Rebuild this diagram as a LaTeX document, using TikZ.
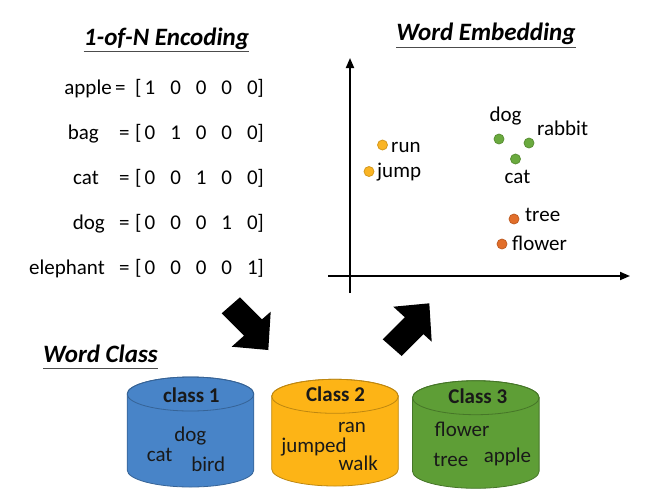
\documentclass[tikz,border=0pt]{standalone}
\usepackage{fontspec}
\setmainfont{Carlito}
\usepackage{tikz}
\usetikzlibrary{arrows.meta, positioning}

\definecolor{binblue}{RGB}{72,132,200}
\definecolor{binorange}{RGB}{253,180,22}
\definecolor{bingreen}{RGB}{94,158,54}
\definecolor{dotyellow}{RGB}{250,180,35}
\definecolor{dotgreen}{RGB}{106,170,62}
\definecolor{dotorange}{RGB}{226,110,42}

\tikzset{
  title/.style={font=\fontsize{25}{30}\selectfont\bfseries\itshape, inner sep=0pt},
  word/.style={font=\fontsize{21}{25}\selectfont, inner sep=0pt},
  binword/.style={word, text=black!90},
  bintitle/.style={binword, font=\fontsize{21}{25}\selectfont\bfseries},
  uline/.style={line width=1.8pt, black!70},
  axis/.style={line width=1.8pt, -{Triangle[length=10pt,width=8pt]}},
  dot/.style={circle, inner sep=0pt, minimum size=10pt, line width=0.8pt},
  binline/.style={line width=0.8pt},
  blockarrow/.style={fill=black}
}

\begin{document}
\begin{tikzpicture}[x=1pt, y=-1pt]
\useasboundingbox (0,0) rectangle (650,491);

% 1-of-N encoding
\node[title, anchor=base] (enc) at (166.5,45) {1-of-N Encoding};
\draw[uline] ([yshift=-6.5pt]enc.base west) -- ([yshift=-6.5pt]enc.base east);

\foreach \w/\wx/\eqx/\bits [count=\r] in {apple/112/115/{1,0,0,0,0}, bag/99/119/{0,1,0,0,0},
    cat/99/119/{0,0,1,0,0}, dog/105/119/{0,0,0,1,0}, elephant/105/119/{0,0,0,0,1}} {
  \node[word, anchor=base east] (w\r) at (\wx,49+45*\r) {\w};
  \node[word, anchor=base west] (eq\r) at (\eqx,49+45*\r) {=};
  \node[word, anchor=base west] (open\r) at (135,49+45*\r) {[};
  \foreach \b [count=\c] in \bits
    \node[word, anchor=base] (bit\r\c) at (124.4+25.6*\c,49+45*\r) {\b};
  \node[word, anchor=base east] (close\r) at (264,49+45*\r) {]};
}

% Word embedding
\node[title, anchor=base] (emb) at (486,40) {Word Embedding};
\draw[uline] ([yshift=-7.5pt]emb.base west) -- ([yshift=-7.5pt]emb.base east);

\coordinate (ybot) at (350,293);
\coordinate (ytop) at (350,58);
\coordinate (xleft) at (328,276);
\coordinate (xright) at (630,276);
\draw[axis] (ybot) -- (ytop);
\draw[axis] (xleft) -- (xright);

\node[dot, fill=dotyellow, draw=dotyellow!85!black] (run-dot) at (382.5,145) {};
\node[dot, fill=dotyellow, draw=dotyellow!85!black] (jump-dot) at (369,171.5) {};
\node[dot, fill=dotgreen, draw=dotgreen!85!black] (dog-dot) at (499,139) {};
\node[dot, fill=dotgreen, draw=dotgreen!85!black] (rabbit-dot) at (529,143) {};
\node[dot, fill=dotgreen, draw=dotgreen!85!black] (cat-dot) at (515.5,159) {};
\node[dot, fill=dotorange, draw=dotorange!85!black] (tree-dot) at (514,219) {};
\node[dot, fill=dotorange, draw=dotorange!85!black] (flower-dot) at (502,244) {};

\node[word, anchor=base west] (run) at (391,152.5) {run};
\node[word, anchor=base west] (jump) at (377,177) {jump};
\node[word, anchor=base] (dog) at (505.5,121.5) {dog};
\node[word, anchor=base west] (rabbit) at (537,135) {rabbit};
\node[word, anchor=base] (cat) at (517.5,183.5) {cat};
\node[word, anchor=base west] (tree) at (525,221.5) {tree};
\node[word, anchor=base west] (flower) at (512,250) {flower};

% Block arrows
\fill[blockarrow] (221.7,313.3) -- (240,297.3) -- (262,319.3) -- (270.7,311.7)
  -- (268.3,350) -- (231.7,346.7) -- (244,335.7) -- cycle;
\fill[blockarrow] (382.7,339.3) -- (404.8,317.2) -- (393.3,306.7) -- (429.3,303.3)
  -- (431.7,341.7) -- (423.5,334.2) -- (401.7,356) -- cycle;

% Word class
\node[title, anchor=base west] (cls) at (43,362) {Word Class};
\draw[uline] ([yshift=-6.5pt]cls.base west) -- ([yshift=-6.5pt]cls.base east);

% Cylinders
\foreach \n/\cx/\ty/\by/\col in {1/190.5/394/470/binblue, 2/335/396.3/469/binorange,
    3/475.8/397.7/471.3/bingreen} {
  \filldraw[binline, fill=\col, draw=\col!75!black] (\cx-63.3,\ty) -- (\cx-63.3,\by)
    arc[start angle=180, end angle=0, x radius=63.3, y radius=17] -- (\cx+63.3,\ty)
    arc[start angle=0, end angle=-180, x radius=63.3, y radius=17] -- cycle;
  \draw[binline, draw=\col!75!black] (\cx,\ty) ellipse[x radius=63.3, y radius=17];
  \coordinate (bin\n) at (\cx,\ty);
}

\node[bintitle, anchor=base] (c1) at (191.3,402.5) {class 1};
\node[binword, anchor=base] (c1dog) at (190.3,441) {dog};
\node[binword, anchor=base] (c1cat) at (159.7,461.5) {cat};
\node[binword, anchor=base] (c1bird) at (208.3,471.5) {bird};

\node[bintitle, anchor=base] (c2) at (335.5,401.7) {Class 2};
\node[binword, anchor=base] (c2ran) at (352,432.7) {ran};
\node[binword, anchor=base] (c2jumped) at (314,452.7) {jumped};
\node[binword, anchor=base] (c2walk) at (358.3,470.7) {walk};

\node[bintitle, anchor=base] (c3) at (477.8,403.3) {Class 3};
\node[binword, anchor=base] (c3flower) at (462,436) {flower};
\node[binword, anchor=base] (c3tree) at (450.8,466.7) {tree};
\node[binword, anchor=base] (c3apple) at (507.5,462.7) {apple};
\end{tikzpicture}
\end{document}
